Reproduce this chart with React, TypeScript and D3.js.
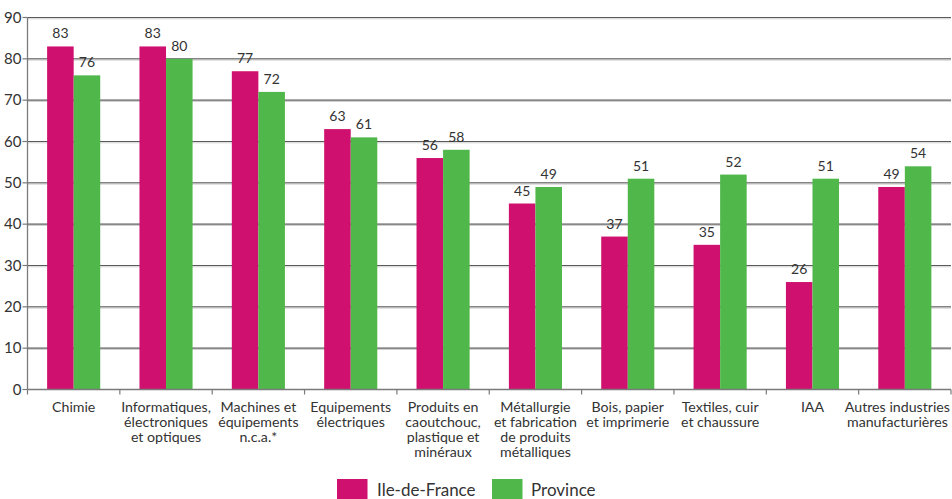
import React, { useEffect, useRef } from 'react';
import * as d3 from 'd3';

const categories = [
  'Chimie',
  'Informatiques,\nélectroniques\net optiques',
  'Machines et\néquipements\nn.c.a.*',
  'Equipements\nélectriques',
  'Produits en\ncaoutchouc,\nplastique et\nminéraux',
  'Métallurgie\net fabrication\nde produits\nmétalliques',
  'Bois, papier\net imprimerie',
  'Textiles, cuir\net chaussure',
  'IAA',
  'Autres industries\nmanufacturières',
];
const ileDeFrance = [83, 83, 77, 63, 56, 45, 37, 35, 26, 49];
const province = [76, 80, 72, 61, 58, 49, 51, 52, 51, 54];
const seriesNames = ['Ile-de-France', 'Province'];
const yTicks = [0, 10, 20, 30, 40, 50, 60, 70, 80, 90];

const colors = ['#CF106F', '#50B84A'];
const font = 'Lato, "Open Sans", sans-serif';

export default function App() {
  const ref = useRef<SVGSVGElement>(null);

  useEffect(() => {
    const width = 952;
    const height = 499;
    const margin = { top: 17.5, right: 1, bottom: 109.5, left: 27.5 };
    const svg = d3.select(ref.current);
    svg.selectAll('*').remove();

    const x = d3.scaleBand<string>()
      .domain(categories)
      .range([margin.left, width - margin.right])
      .paddingInner(0.425)
      .paddingOuter(0.2125);
    const step = x.step();
    const y = d3.scaleLinear().domain([0, 90]).range([height - margin.bottom, margin.top]);

    // gridlines
    const grid = svg.append('g');
    yTicks.filter(d => d > 0).forEach(t => {
      grid.append('line')
        .attr('x1', margin.left).attr('x2', width - margin.right)
        .attr('y1', y(t)).attr('y2', y(t))
        .attr('stroke', '#5b5b5b').attr('stroke-width', 1.2);
      grid.append('line')
        .attr('x1', margin.left).attr('x2', width - margin.right)
        .attr('y1', y(t) + 1.3).attr('y2', y(t) + 1.3)
        .attr('stroke', '#cfcfcf').attr('stroke-width', 1);
    });

    // bars
    const groups = svg.append('g').selectAll('g')
      .data(categories)
      .join('g')
      .attr('transform', d => `translate(${x(d)},0)`);
    const bw = x.bandwidth() / 2;
    [ileDeFrance, province].forEach((vals, s) => {
      groups.append('rect')
        .attr('x', s * bw)
        .attr('y', (_, i) => y(vals[i]))
        .attr('width', bw)
        .attr('height', (_, i) => y(0) - y(vals[i]))
        .attr('fill', colors[s]);
      groups.append('text')
        .attr('x', s * bw + bw / 2)
        .attr('y', (_, i) => y(vals[i]) - 8)
        .attr('text-anchor', 'middle')
        .attr('font-family', font)
        .attr('font-size', 14)
        .attr('fill', '#333')
        .text((_, i) => vals[i]);
    });

    // y axis
    const yAxis = svg.append('g');
    yAxis.append('line')
      .attr('x1', margin.left).attr('x2', margin.left)
      .attr('y1', y(90)).attr('y2', y(0))
      .attr('stroke', '#7a7a7a').attr('stroke-width', 1.3);
    yTicks.forEach(t => {
      yAxis.append('line')
        .attr('x1', margin.left - 5).attr('x2', margin.left)
        .attr('y1', y(t)).attr('y2', y(t))
        .attr('stroke', '#7a7a7a').attr('stroke-width', 1.2);
      yAxis.append('text')
        .attr('x', margin.left - 6)
        .attr('y', y(t))
        .attr('dy', '0.35em')
        .attr('text-anchor', 'end')
        .attr('font-family', font)
        .attr('font-size', 15)
        .attr('fill', '#333')
        .text(t);
    });

    // x axis
    const xAxis = svg.append('g');
    xAxis.append('line')
      .attr('x1', margin.left).attr('x2', width - margin.right)
      .attr('y1', y(0)).attr('y2', y(0))
      .attr('stroke', '#7a7a7a').attr('stroke-width', 1.3);
    d3.range(categories.length + 1).forEach(i => {
      const xx = margin.left + i * step;
      xAxis.append('line')
        .attr('x1', xx).attr('x2', xx)
        .attr('y1', y(0)).attr('y2', y(0) + 5)
        .attr('stroke', '#7a7a7a').attr('stroke-width', 1.2);
    });
    categories.forEach(c => {
      const cx = (x(c) as number) + x.bandwidth() / 2;
      const t = xAxis.append('text')
        .attr('y', y(0) + 22)
        .attr('text-anchor', 'middle')
        .attr('font-family', font)
        .attr('font-size', 14.2)
        .attr('fill', '#333');
      const spans = c.split('\n').map((line, j) =>
        t.append('tspan')
          .attr('x', cx)
          .attr('y', y(0) + 22 + j * 15.3)
          .text(line));
      // keep the label inside the picture
      const maxW = d3.max(spans, s => (s.node() as SVGTSpanElement).getComputedTextLength()) || 0;
      const fit = Math.min(cx, width - 2 - maxW / 2);
      spans.forEach(s => s.attr('x', fit));
    });

    // legend
    const legend = svg.append('g');
    const items = [{ x: 337, tx: 377 }, { x: 492, tx: 531 }];
    seriesNames.forEach((name, i) => {
      legend.append('rect')
        .attr('x', items[i].x).attr('y', 479)
        .attr('width', 30.5).attr('height', 22)
        .attr('fill', colors[i]);
      legend.append('text')
        .attr('x', items[i].tx).attr('y', 496)
        .attr('font-family', font)
        .attr('font-size', 17)
        .attr('fill', '#333')
        .text(name);
    });
  }, []);

  return (
    <div style={{ position: 'absolute', left: 0, top: 0 }}>
      <svg ref={ref} width={952} height={499} style={{ display: 'block', background: '#fff' }} />
    </div>
  );
}
